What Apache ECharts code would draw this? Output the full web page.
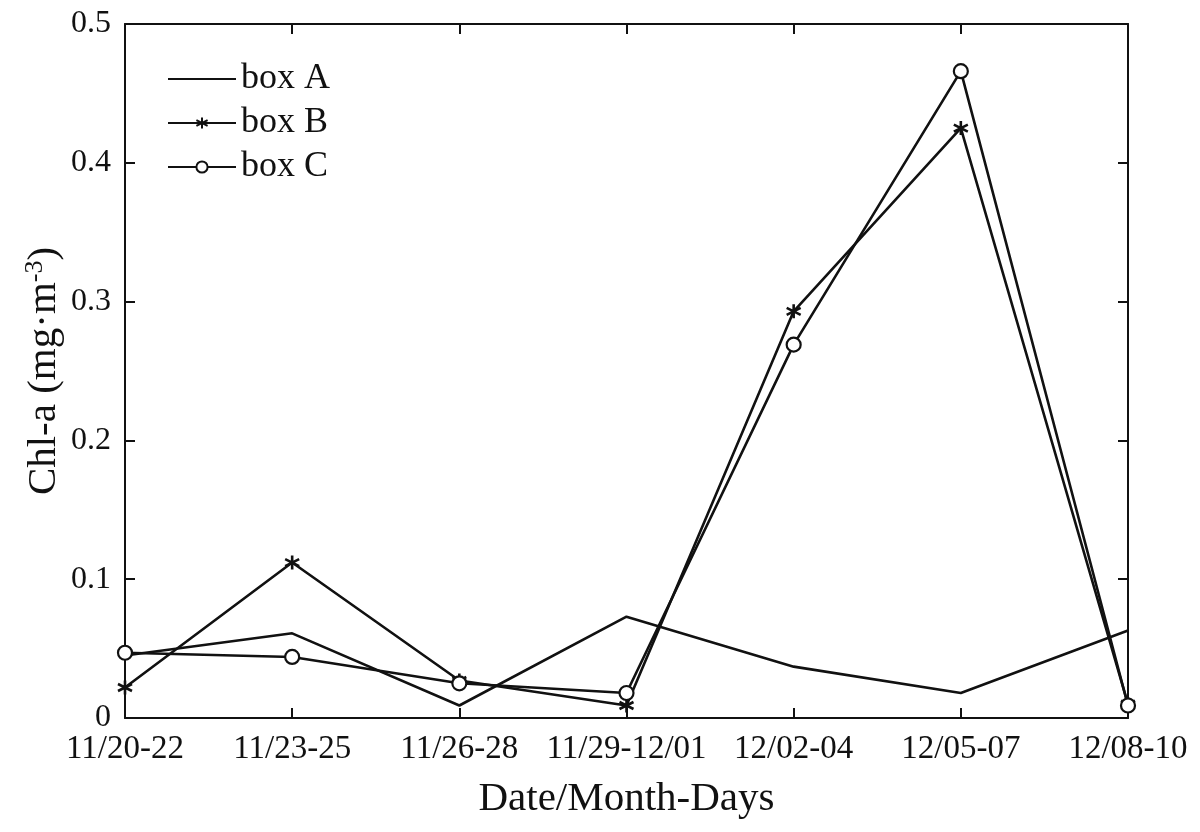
<!DOCTYPE html>
<html>
<head>
<meta charset="utf-8">
<script src="https://cdn.jsdelivr.net/npm/echarts@6/dist/echarts.min.js"></script>
<style>
  html, body { margin: 0; padding: 0; background: #fff; }
  #chart { width: 1200px; height: 832px; }
</style>
</head>
<body>
<div id="chart"></div>
<script>
const categories = ["11/20-22", "11/23-25", "11/26-28", "11/29-12/01", "12/02-04", "12/05-07", "12/08-10"];
const boxA = [0.045, 0.061, 0.009, 0.073, 0.037, 0.018, 0.063];
const boxB = [0.022, 0.112, 0.027, 0.009, 0.293, 0.425, 0.010];
const boxC = [0.047, 0.044, 0.025, 0.018, 0.269, 0.466, 0.009];

const INK = "#111";
const FONT = "'Liberation Serif', 'Times New Roman', serif";
const STAR = "path://M0,-10L0,10M-8.66,-5L8.66,5M-8.66,5L8.66,-5";

const chart = echarts.init(document.getElementById("chart"), null, { renderer: "canvas" });

function lineSeries(name, data, symbol) {
  const plain = !symbol;
  return {
    name,
    type: "line",
    data,
    symbol: plain ? "circle" : symbol,
    symbolSize: plain ? 0 : 14,
    showSymbol: !plain,
    lineStyle: { color: INK, width: 2.6 },
    itemStyle: symbol === STAR
      ? { color: "none", borderColor: INK, borderWidth: 2.6 }
      : { color: plain ? "none" : "#fff", borderColor: plain ? "none" : INK, borderWidth: 2.2 },
    emphasis: { disabled: true },
    animation: false,
    z: 3
  };
}

const tickStyle = { show: true, inside: true, length: 10, lineStyle: { color: INK, width: 2 } };
const axisLine = { show: true, onZero: false, lineStyle: { color: INK, width: 2 } };

chart.setOption({
  backgroundColor: "#fff",
  textStyle: { fontFamily: FONT, color: INK },
  grid: { left: 125, right: 72, top: 24, bottom: 114 },
  legend: {
    orient: "vertical",
    left: 162,
    top: 56,
    itemWidth: 68,
    itemHeight: 14,
    itemGap: 8,
    textStyle: { fontFamily: FONT, fontSize: 36, color: INK },
    data: [
      { name: "box A", itemStyle: { opacity: 0 } },
      "box B",
      "box C"
    ]
  },
  xAxis: [
    {
      type: "category",
      data: categories,
      boundaryGap: false,
      axisLine,
      axisTick: { ...tickStyle, alignWithLabel: true },
      axisLabel: { fontFamily: FONT, fontSize: 33, color: INK, margin: 15, interval: 0 },
      splitLine: { show: false },
      name: "Date/Month-Days",
      nameLocation: "middle",
      nameGap: 61,
      nameMoveOverlap: false,
      nameTextStyle: { fontFamily: FONT, fontSize: 41, color: INK }
    },
    {
      type: "category",
      data: categories,
      boundaryGap: false,
      position: "top",
      axisLine,
      axisTick: tickStyle,
      axisLabel: { show: false },
      splitLine: { show: false }
    }
  ],
  yAxis: [
    {
      type: "value",
      min: 0,
      max: 0.5,
      interval: 0.1,
      axisLine,
      axisTick: tickStyle,
      axisLabel: {
        fontFamily: FONT, fontSize: 32, color: INK, margin: 14,
        formatter: v => (v === 0 ? "0" : v.toFixed(1))
      },
      splitLine: { show: false },
      name: "{t|Chl-a (mg·m}{s|-3}{t|)}",
      nameLocation: "middle",
      nameGap: 59,
      nameMoveOverlap: false,
      nameTextStyle: {
        fontFamily: FONT, fontSize: 41, color: INK,
        rich: {
          t: { fontFamily: FONT, fontSize: 41, color: INK },
          s: { fontFamily: FONT, fontSize: 26, color: INK, verticalAlign: "top", padding: [0, 0, 18, 0] }
        }
      }
    },
    {
      type: "value",
      min: 0,
      max: 0.5,
      interval: 0.1,
      position: "right",
      axisLine,
      axisTick: tickStyle,
      axisLabel: { show: false },
      splitLine: { show: false }
    }
  ],
  series: [
    lineSeries("box A", boxA, null),
    lineSeries("box B", boxB, STAR),
    lineSeries("box C", boxC, "circle")
  ]
});
</script>
</body>
</html>
